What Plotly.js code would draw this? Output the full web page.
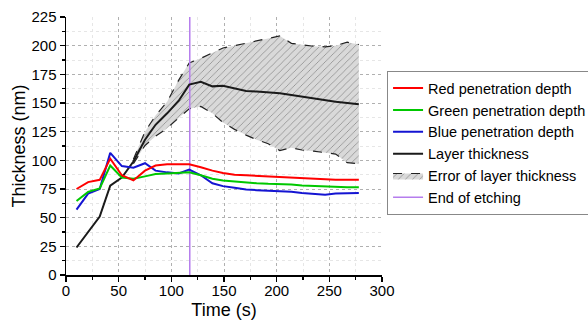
<!DOCTYPE html>
<html>
<head>
<meta charset="utf-8">
<script src="https://cdn.plot.ly/plotly-3.0.1.min.js"></script>
<style>html,body{margin:0;padding:0;background:#fff;}#chart{width:588px;height:326px;}</style>
</head>
<body>
<div id="chart"></div>
<script>
const time = [10,21,32,42,53,64,75,85,96,107,117,128,139,149,160,171,181,192,203,214,224,235,246,256,267,278];
const redDepth = [75,81,83,101.5,87,82.5,91,95.5,96.5,96.5,96.5,94,91,89,87.5,87,86.5,86,85.5,85,84.5,84,83.5,83,83,83];
const greenDepth = [64.5,72.5,75.5,95.5,85,84,86,88,88.5,89,89.5,87,84,82.5,81.5,80.5,80,79.5,79.5,79,78,77.5,77,77,76.5,76.5];
const blueDepth = [57,71,75,106.5,95,93.5,97.5,91,89.5,88.5,92,87,80,77.5,76,74.5,74,73.5,73.5,72.5,71.5,71,70,71,71.5,71.5];
const layerThickness = [24,37,51,78,85,99,118,131,141,152,166,168.5,164.5,165,163,160.5,160,159.5,158.5,157,155.5,154,152.5,151,150,149];

const errTime = [64,75,85,96,107,117,128,139,149,160,171,181,192,203,214,224,235,246,256,267,278];
const errUpper = [101,125,139,151,170,185,189,194,198,200,202,204,206,208.5,202,200.5,199.5,199,200,203,201];
const errLower = [97,113,121,128,137,145,147,141,133,127,122,118,114.5,108.5,111,109,108,107,105.5,98,97];

const etchEnd = 117.5;
const etchLineY = [0, 225];

const names = ["Red penetration depth","Green penetration depth","Blue penetration depth","Layer thickness","Error of layer thickness","End of etching"];

const traces = [
  {x: errTime, y: errLower, type:'scatter', mode:'lines', line:{color:'#222', width:1.2, dash:'dash'}, showlegend:false, hoverinfo:'skip'},
  {x: errTime, y: errUpper, type:'scatter', mode:'lines', fill:'tonexty', name:names[4], legendrank:5,
   fillcolor:'#d6d6d6', fillpattern:{shape:'/', bgcolor:'#d9d9d9', fgcolor:'#8a8a8a', size:5, solidity:0.15},
   line:{color:'#222', width:1.2, dash:'dash'}},
  {x:[etchEnd, etchEnd], y: etchLineY, type:'scatter', mode:'lines', name:names[5], legendrank:6, line:{color:'#b57ded', width:1.5}},
  {x: time, y: layerThickness, type:'scatter', mode:'lines', name:names[3], legendrank:4, line:{color:'#1a1a1a', width:2}},
  {x: time, y: blueDepth, type:'scatter', mode:'lines', name:names[2], legendrank:3, line:{color:'#1414d2', width:2}},
  {x: time, y: greenDepth, type:'scatter', mode:'lines', name:names[1], legendrank:2, line:{color:'#00c800', width:2}},
  {x: time, y: redDepth, type:'scatter', mode:'lines', name:names[0], legendrank:1, line:{color:'#ff0000', width:2}}
];

const font = '"Liberation Sans", Arial, sans-serif';
const layout = {
  width:588, height:326,
  margin:{l:66, r:206, t:17, b:51, autoexpand:false},
  paper_bgcolor:'#fff', plot_bgcolor:'#fff',
  font:{family:font, color:'#000'},
  showlegend:true,
  legend:{x:1.016, y:0.79, xanchor:'left', yanchor:'top', bordercolor:'#888', borderwidth:1,
          font:{family:font, size:14.5, color:'#000'}, tracegroupgap:0, traceorder:'normal', bgcolor:'#fff'},
  xaxis:{range:[0,300], dtick:50, tick0:0, showline:true, linecolor:'#000', linewidth:1.5,
         ticks:'outside', ticklen:5, tickwidth:1.2, tickcolor:'#000', zeroline:false, ticklabelstandoff:-4,
         showgrid:true, gridcolor:'#b0b0b0', griddash:'dot', gridwidth:1,
         minor:{dtick:25, ticks:'outside', ticklen:3, tickcolor:'#000', showgrid:true, gridcolor:'#e6e6e6', griddash:'dot'},
         tickfont:{size:15, family:font},
         title:{text:'Time (s)', font:{size:18, family:font}, standoff:6}},
  yaxis:{range:[0,225], dtick:25, tick0:0, showline:true, linecolor:'#000', linewidth:1.5,
         ticks:'outside', ticklen:5, tickwidth:1.2, tickcolor:'#000', zeroline:false,
         showgrid:true, gridcolor:'#b0b0b0', griddash:'dot', gridwidth:1,
         minor:{dtick:12.5, ticks:'outside', ticklen:3, tickcolor:'#000', showgrid:true, gridcolor:'#e6e6e6', griddash:'dot'},
         tickfont:{size:15, family:font},
         title:{text:'Thickness (nm)', font:{size:18, family:font}, standoff:1}}
};

Plotly.newPlot('chart', traces, layout, {staticPlot:true, displayModeBar:false});
</script>
</body>
</html>
